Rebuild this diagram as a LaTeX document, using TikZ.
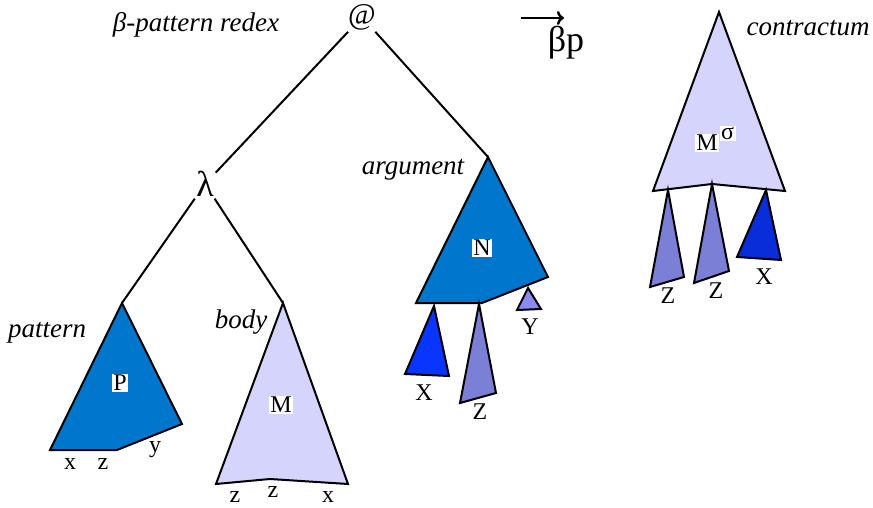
\documentclass[tikz,border=0pt]{standalone}
\usepackage{fontspec}
\setmainfont{Liberation Serif}
\usetikzlibrary{arrows.meta}
\definecolor{patblue}{HTML}{0077CC}
\definecolor{bodylav}{HTML}{D4D4FC}
\definecolor{varblue}{HTML}{0A35FF}
\definecolor{varslate}{HTML}{7B7FD6}
\definecolor{varlight}{HTML}{8A8AF2}

\begin{document}
\begin{tikzpicture}[x=1pt, y=-1pt, line width=2pt, line join=miter,
  tri/.style={draw=black, line width=2pt},
  role/.style={font=\fontsize{27}{31}\selectfont\itshape},
  var/.style={font=\fontsize{24}{28}\selectfont, inner sep=1pt},
  term/.style={font=\fontsize{24}{28}\selectfont, fill=white, inner sep=1pt}]

\useasboundingbox (0,0) rectangle (873,508);

% Tree nodes and apexes
\node[font=\fontsize{30}{34}\selectfont, inner sep=1pt] (redex) at (362,17) {@};
\node[font=\fontsize{36}{40}\selectfont, inner sep=1pt] (lam) at (205,184) {λ};
\coordinate (pTop) at (122,303);
\coordinate (mTop) at (283,303);
\coordinate (nTop) at (488,157);

% Tree edges
\draw (redex) -- (lam);
\draw (redex) -- (nTop);
\draw (lam) -- (pTop);
\draw (lam) -- (mTop);

% Pattern
\filldraw[tri, fill=patblue] (pTop) -- (50,450) -- (117,450) -- (182,424) -- cycle;
\node[term] (pLbl) at (120,383) {P};
\node[var] at (70,464) {x};
\node[var] at (103,464) {z};
\node[var] at (155,450) {y};

% Body
\filldraw[tri, fill=bodylav] (mTop) -- (216,484) -- (270,479) -- (348,484) -- cycle;
\node[term] (mLbl) at (281,405) {M};
\node[var] at (235,497) {z};
\node[var] at (273,492) {z};
\node[var] at (328,497) {x};

% Argument
\filldraw[tri, fill=patblue] (nTop) -- (416,303) -- (482,303) -- (548,277) -- cycle;
\node[term] (nLbl) at (482,248) {N};
\filldraw[tri, fill=varblue] (434,306) -- (405,374) -- (449,376) -- cycle;
\filldraw[tri, fill=varslate] (479,304) -- (460,403) -- (496,393) -- cycle;
\filldraw[tri, fill=varlight] (528,288) -- (517,310) -- (541,309) -- cycle;
\node[var] at (424,393) {X};
\node[var] at (480,412) {Z};
\node[var] at (530,327) {Y};

% Contractum
\filldraw[tri, fill=bodylav] (719,12) -- (653,191) -- (712,184) -- (785,191) -- cycle;
\node[term] (msLbl) at (707,143) {M};
\node[term, anchor=south west, inner sep=1.5pt, yshift=-9pt, xshift=-1pt] (sigLbl) at (msLbl.north east) {σ};
\filldraw[tri, fill=varslate] (668,190) -- (650,287) -- (684,277) -- cycle;
\filldraw[tri, fill=varslate] (712,184) -- (694,283) -- (729,271) -- cycle;
\filldraw[tri, fill=varblue!85!black] (766,190) -- (737,257) -- (781,260) -- cycle;
\node[var] at (668,296) {Z};
\node[var] at (716,291) {Z};
\node[var] at (764,277) {X};

% Reduction arrow
\coordinate (arrS) at (521,18);
\coordinate (arrE) at (564,18);
\draw[line width=2.4pt, -{To[length=7pt, width=14pt]}] (arrS) -- (arrE);
\node[font=\fontsize{36}{40}\selectfont] (bp) at (566,43) {βp};

% Role labels
\node[role] (rLbl) at (196,25) {β-pattern redex};
\node[role] at (47,333) {pattern};
\node[role] at (241,322) {body};
\node[role] at (413,170) {argument};
\node[role] at (808,28) {contractum};

\end{tikzpicture}
\end{document}
